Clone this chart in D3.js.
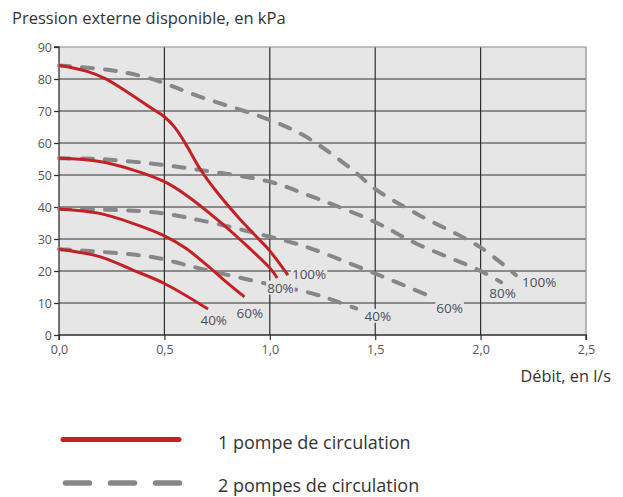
<!DOCTYPE html>
<html><head><meta charset="utf-8">
<script src="https://cdn.jsdelivr.net/npm/d3@7/dist/d3.min.js"></script>
<style>
body{margin:0;background:#fff;}
svg{display:block;font-family:"Open Sans",sans-serif;}
</style></head>
<body><svg id="c" width="623" height="497"></svg>
<script>
// ---- data ----
const xTicks = [0, 0.5, 1.0, 1.5, 2.0, 2.5];
const xTickLabels = ["0,0", "0,5", "1,0", "1,5", "2,0", "2,5"];
const yTicks = [0, 10, 20, 30, 40, 50, 60, 70, 80, 90];
const speedLabels = ["100%", "80%", "60%", "40%"];

// 1 pompe de circulation (débit l/s, pression kPa)
const onePump100Flow = [0, 0.137, 0.217, 0.296, 0.445, 0.5, 0.55, 0.6, 0.67, 0.75, 0.85, 0.95, 1.0, 1.086];
const onePump100Pres = [84.3, 82.3, 80.2, 77.1, 70.6, 68.2, 64.8, 59.8, 51.8, 44.6, 36.8, 29.8, 26.3, 18.7];
const onePump80Flow = [0, 0.193, 0.35, 0.5, 0.597, 0.754, 0.912, 1.006, 1.035];
const onePump80Pres = [55.2, 54.2, 51.6, 47.9, 44, 35.9, 26.6, 20.5, 17.8];
const onePump60Flow = [0, 0.193, 0.35, 0.5, 0.6, 0.7, 0.8, 0.88];
const onePump60Pres = [39.4, 38, 34.9, 31, 27.2, 21.9, 16.2, 11.9];
const onePump40Flow = [0, 0.193, 0.35, 0.5, 0.707];
const onePump40Pres = [26.8, 24.5, 20.3, 16.1, 8.1];

// 2 pompes de circulation
const twoPump100Flow = [0, 0.24, 0.43, 0.667, 1.0, 1.17, 1.393, 1.496, 1.694, 1.994, 2.168];
const twoPump100Pres = [84.2, 82.8, 80.2, 74.5, 67.2, 62, 51.6, 45.8, 38, 27.6, 18.7];
const twoPump80Flow = [0, 0.19, 0.43, 0.667, 1.0, 1.17, 1.496, 1.694, 1.994, 2.097];
const twoPump80Pres = [55.2, 55, 53.6, 51.6, 47.9, 44, 35.4, 28.6, 20.2, 16.5];
const twoPump60Flow = [0, 0.43, 0.667, 1.0, 1.17, 1.496, 1.75];
const twoPump60Pres = [39.4, 38.5, 35.9, 30.7, 27.6, 19.3, 12.4];
const twoPump40Flow = [0, 0.43, 0.667, 1.0, 1.2, 1.3, 1.41];
const twoPump40Pres = [26.8, 24.5, 20.8, 15.8, 13.0, 10.9, 8.3];

const legendLabels = ["1 pompe de circulation", "2 pompes de circulation"];
const titleText = "Pression externe disponible, en kPa";
const xTitleText = "Débit, en l/s";

// ---- layout / style ----
const svg = d3.select("#c");
const L = 59, R = 586, T = 47, B = 335;
const x = d3.scaleLinear().domain([0, 2.5]).range([L, R]);
const y = d3.scaleLinear().domain([0, 90]).range([B, T]);
const bg = "#e6e6e6";
const red = "#c42127", gray = "#878787", txt = "#4d4d5a";

svg.append("rect").attr("x", L).attr("y", T).attr("width", R - L).attr("height", B - T).attr("fill", bg);

// grid
svg.append("g").selectAll("line").data(yTicks.filter(d => d > 0 && d < 90)).join("line")
  .attr("x1", L).attr("x2", R).attr("y1", d => y(d)).attr("y2", d => y(d))
  .attr("stroke", "#2e2e2e").attr("stroke-width", 1.2);
svg.append("g").selectAll("line").data(xTicks.filter(d => d > 0 && d < 2.5)).join("line")
  .attr("y1", T).attr("y2", B).attr("x1", d => x(d)).attr("x2", d => x(d))
  .attr("stroke", "#2e2e2e").attr("stroke-width", 1.2);
// top/right border
svg.append("path").attr("d", `M${L},${T}H${R}V${B}`).attr("fill", "none").attr("stroke", "#8c8c8c").attr("stroke-width", 1.2);

// axes
const yAxis = d3.axisLeft(y).tickValues(yTicks).tickSize(5).tickFormat(d3.format("d"));
const gy = svg.append("g").attr("transform", `translate(${L},0)`).call(yAxis);
gy.select(".domain").attr("stroke", "#2e2e2e").attr("stroke-width", 1.3).attr("d", `M-5,${T}H0V${B}`);
gy.selectAll(".tick line").attr("stroke", "#2e2e2e").attr("stroke-width", 1.2);
gy.selectAll(".tick text").attr("fill", "#555").attr("font-size", 12.5).attr("x", -7).attr("font-family", "Open Sans");

const xAxis = d3.axisBottom(x).tickValues(xTicks).tickSize(5).tickFormat((d, i) => xTickLabels[i]);
const gx = svg.append("g").attr("transform", `translate(0,${B})`).call(xAxis);
gx.select(".domain").attr("stroke", "#2e2e2e").attr("stroke-width", 1.3).attr("d", `M${L},5V0H${R}V5`);
gx.selectAll(".tick line").attr("stroke", "#2e2e2e").attr("stroke-width", 1.2);
gx.selectAll(".tick text").attr("fill", "#555").attr("font-size", 12.5).attr("y", 10).attr("font-family", "Open Sans");

// curves
const line = d3.line().x(d => x(d[0])).y(d => y(d[1])).curve(d3.curveCatmullRom.alpha(0.5));
const zip = (a, b) => a.map((v, i) => [v, b[i]]);
const twoSeries = [
  zip(twoPump100Flow, twoPump100Pres), zip(twoPump80Flow, twoPump80Pres),
  zip(twoPump60Flow, twoPump60Pres), zip(twoPump40Flow, twoPump40Pres)];
const oneSeries = [
  zip(onePump100Flow, onePump100Pres), zip(onePump80Flow, onePump80Pres),
  zip(onePump60Flow, onePump60Pres), zip(onePump40Flow, onePump40Pres)];

svg.append("g").selectAll("path").data(twoSeries).join("path")
  .attr("d", line).attr("fill", "none").attr("stroke", gray).attr("stroke-width", 4)
  .attr("stroke-linecap", "round").attr("stroke-dasharray", "11,12");
svg.append("g").selectAll("path").data(oneSeries).join("path")
  .attr("d", line).attr("fill", "none").attr("stroke", red).attr("stroke-width", 3);

// labels (offsets in px relative to curve end)
const oneLabelOffsets = [[4, -1.5], [-10, 9.5], [-8, 16], [-7.6, 11.4]];
const twoLabelOffsets = [[6, 7.3], [-11.7, 10.4], [8.4, 12.3], [8.3, 7.4]];
function addLabels(series, offs) {
  series.forEach((s, i) => {
    const e = s[s.length - 1];
    const g = svg.append("g");
    const t = g.append("text").attr("x", x(e[0]) + offs[i][0]).attr("y", y(e[1]) + offs[i][1])
      .attr("dominant-baseline", "central").attr("font-size", 13.5).attr("fill", txt).text(speedLabels[i]);
    const bb = t.node().getBBox();
    g.insert("rect", "text").attr("x", bb.x - 1).attr("y", bb.y + 2).attr("width", bb.width + 2).attr("height", bb.height - 4).attr("fill", bg);
  });
}
addLabels(twoSeries, twoLabelOffsets);
addLabels(oneSeries, oneLabelOffsets);

// titles
svg.append("text").attr("x", 12).attr("y", 24).attr("font-size", 16.5).attr("fill", "#333").text(titleText);
svg.append("text").attr("x", 611).attr("y", 382).attr("text-anchor", "end").attr("font-size", 16.3).attr("fill", "#333").text(xTitleText);

// legend
svg.append("line").attr("x1", 63).attr("x2", 179).attr("y1", 439.5).attr("y2", 439.5)
  .attr("stroke", red).attr("stroke-width", 5).attr("stroke-linecap", "round");
svg.append("line").attr("x1", 65.5).attr("x2", 180).attr("y1", 483).attr("y2", 483)
  .attr("stroke", gray).attr("stroke-width", 5.5).attr("stroke-linecap", "round").attr("stroke-dasharray", "24,21");
svg.append("g").selectAll("text").data(legendLabels).join("text")
  .attr("x", 218).attr("y", (d, i) => i === 0 ? 441.5 : 485).attr("dominant-baseline", "central")
  .attr("font-size", 18).attr("fill", "#333").text(d => d);
</script></body></html>
